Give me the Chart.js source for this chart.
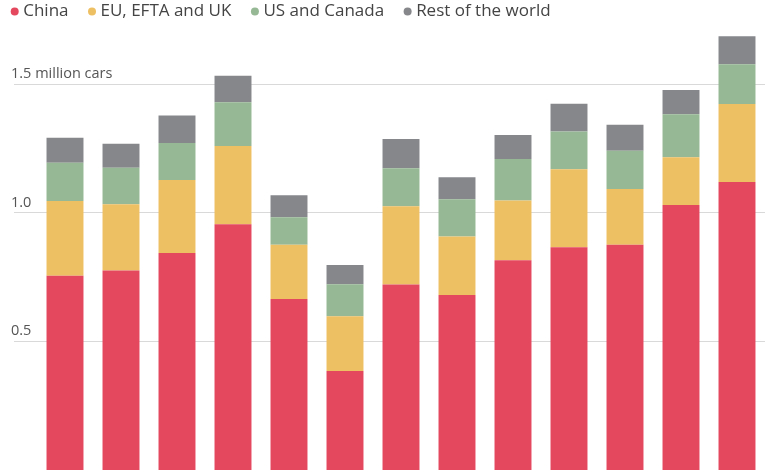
<!DOCTYPE html>
<html>
<head>
<meta charset="utf-8">
<script src="https://cdn.jsdelivr.net/npm/chart.js@4"></script>
<style>
  body { margin: 0; background: #fff; overflow: hidden; }
  #wrap { width: 780px; height: 470px; }
</style>
</head>
<body>
<div id="wrap"><canvas id="myChart"></canvas></div>
<script>
// quarterly EV sales, million cars (x labels are cut off in the reference)
const quarters = ['Q1 2019', 'Q2 2019', 'Q3 2019', 'Q4 2019', 'Q1 2020', 'Q2 2020', 'Q3 2020',
    'Q4 2020', 'Q1 2021', 'Q2 2021', 'Q3 2021', 'Q4 2021', 'Q1 2022'];
const china = [0.755, 0.775, 0.843, 0.955, 0.665, 0.385, 0.721, 0.680, 0.815, 0.866, 0.875, 1.030, 1.119];
const europe = [0.290, 0.258, 0.284, 0.304, 0.210, 0.213, 0.304, 0.227, 0.232, 0.303, 0.217, 0.185, 0.303];
const usCanada = [0.149, 0.142, 0.144, 0.170, 0.107, 0.124, 0.148, 0.145, 0.162, 0.147, 0.149, 0.168, 0.155];
const restOfWorld = [0.097, 0.093, 0.107, 0.103, 0.086, 0.075, 0.113, 0.086, 0.093, 0.107, 0.101, 0.094, 0.109];
const yTicks = [0.5, 1.0, 1.5];

let ctx = document.getElementById('myChart').getContext('2d');

var myChart = new Chart(ctx, {
    type: 'bar',
    data: {
        labels: quarters,
        datasets: [{
            label: 'China',
            backgroundColor: '#e4485e',
            data: china
        }, {
            label: 'EU, EFTA and UK',
            backgroundColor: '#eec064',
            data: europe
        }, {
            label: 'US and Canada',
            backgroundColor: '#96b894',
            data: usCanada
        }, {
            label: 'Rest of the world',
            backgroundColor: '#86878b',
            data: restOfWorld
        }]
    },
    options: {
        responsive: true,
        maintainAspectRatio: false,
        animation: false,
        datasets: {
            bar: {
                borderWidth: 0,
                categoryPercentage: 1,
                barPercentage: 0.66
            }
        },
        layout: {
            padding: { left: -8.8, right: 15, top: -20.5, bottom: 0 }
        },
        scales: {
            x: {
                stacked: true,
                display: false
            },
            y: {
                stacked: true,
                min: 0,
                max: 1.71,
                border: { display: false },
                grid: {
                    color: '#d9d9d9',
                    lineWidth: 1,
                    drawTicks: true,
                    tickLength: 23,
                    tickColor: '#d9d9d9'
                },
                ticks: {
                    mirror: true,
                    padding: -26,
                    labelOffset: -10,
                    color: '#555',
                    font: { family: 'Open Sans', size: 14.5 },
                    callback: (v) => v === 1.5 ? '1.5 million cars' : v.toFixed(1)
                },
                afterBuildTicks: (axis) => {
                    axis.ticks = yTicks.map(v => ({ value: v }));
                },
                afterFit: (axis) => {
                    axis.width = 45.8;
                }
            }
        },
        plugins: {
            tooltip: { enabled: false },
            legend: {
                display: true,
                position: 'top',
                align: 'start',
                labels: {
                    usePointStyle: true,
                    pointStyle: 'circle',
                    boxWidth: 0.01,
                    boxHeight: 5.66,
                    padding: 23.5,
                    color: '#444',
                    font: { family: 'Open Sans', size: 17 }
                }
            }
        }
    }
})
</script>
</body>
</html>
